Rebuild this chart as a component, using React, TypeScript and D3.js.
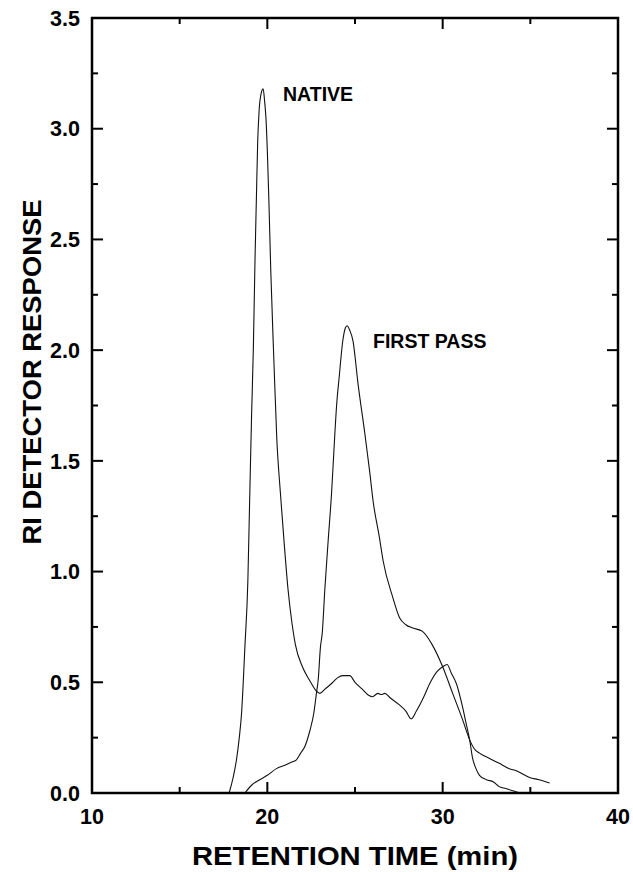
import React from "react";
import * as d3 from "d3";

const nativeTime = [17.82, 18.05, 18.24, 18.4, 18.53, 18.72, 18.89, 18.98, 19.1, 19.2, 19.3, 19.38, 19.45, 19.53, 19.65, 19.76, 19.85, 19.92, 20.0, 20.09, 20.2, 20.37, 20.54, 20.75, 20.94, 21.18, 21.4, 21.6, 22.0, 22.4, 22.8, 23.0, 23.3, 23.6, 24.0, 24.3, 24.7, 25.0, 25.4, 25.8, 26.0, 26.3, 26.5, 26.7, 27.0, 27.5, 27.9, 28.2, 28.5, 28.9, 29.3, 29.7, 30.0, 30.25, 30.5, 30.8, 31.1, 31.35, 31.54, 31.7, 31.9, 32.1, 32.5, 32.9, 33.2, 33.6, 34.0, 34.4];
const nativeResponse = [0, 0.07, 0.15, 0.25, 0.36, 0.66, 0.96, 1.28, 1.7, 2.0, 2.42, 2.7, 2.94, 3.08, 3.16, 3.18, 3.12, 3.05, 2.9, 2.67, 2.35, 1.96, 1.6, 1.35, 1.15, 0.92, 0.77, 0.67, 0.57, 0.51, 0.46, 0.45, 0.47, 0.49, 0.52, 0.53, 0.53, 0.5, 0.47, 0.44, 0.435, 0.45, 0.445, 0.45, 0.43, 0.4, 0.37, 0.335, 0.37, 0.43, 0.5, 0.55, 0.57, 0.58, 0.54, 0.49, 0.4, 0.31, 0.24, 0.16, 0.11, 0.08, 0.06, 0.05, 0.03, 0.02, 0.01, 0];

const firstPassTime = [18.72, 19.1, 19.57, 20.0, 20.52, 21.0, 21.4, 21.66, 21.9, 22.14, 22.42, 22.65, 22.8, 22.9, 23.03, 23.13, 23.28, 23.47, 23.66, 23.8, 23.95, 24.1, 24.3, 24.45, 24.55, 24.7, 24.89, 25.17, 25.55, 25.84, 26.03, 26.4, 26.6, 27.15, 27.55, 27.9, 28.3, 28.85, 29.4, 30.0, 30.57, 31.14, 31.54, 31.8, 32.1, 32.7, 33.2, 33.8, 34.2, 34.96, 35.5, 36.1];
const firstPassResponse = [0, 0.035, 0.06, 0.08, 0.11, 0.125, 0.14, 0.15, 0.18, 0.21, 0.28, 0.36, 0.45, 0.51, 0.66, 0.72, 0.92, 1.14, 1.35, 1.55, 1.75, 1.88, 2.04, 2.1, 2.11, 2.09, 2.04, 1.85, 1.63, 1.45, 1.32, 1.15, 1.05, 0.885, 0.79, 0.76, 0.745, 0.73, 0.67, 0.57, 0.45, 0.33, 0.24, 0.2, 0.18, 0.155, 0.135, 0.11, 0.1, 0.07, 0.06, 0.045];

const xMajorTicks = [10, 20, 30, 40];
const xMinorTicks = [15, 25, 35];
const yMajorTicks = [0, 0.5, 1.0, 1.5, 2.0, 2.5, 3.0, 3.5];
const yMinorTicks = [0.25, 0.75, 1.25, 1.75, 2.25, 2.75, 3.25];

const seriesLabels = ["NATIVE", "FIRST PASS"];
const xTitle = "RETENTION TIME (min)";
const yTitle = "RI DETECTOR RESPONSE";

const W = 633;
const H = 872;
const left = 92;
const right = 618;
const top = 18;
const bottom = 793;
const font = "'Liberation Sans', Arial, Helvetica, sans-serif";

export default function App() {
  const x = d3.scaleLinear().domain([10, 40]).range([left, right]);
  const y = d3.scaleLinear().domain([0, 3.5]).range([bottom, top]);
  const line = d3
    .line<[number, number]>()
    .x((d) => x(d[0]))
    .y((d) => y(d[1]))
    .curve(d3.curveMonotoneX);

  const nativePts: [number, number][] = nativeTime.map((t, i) => [t, nativeResponse[i]]);
  const firstPts: [number, number][] = firstPassTime.map((t, i) => [t, firstPassResponse[i]]);

  const majorLen = 11;
  const minorLen = 6;

  return (
    <svg
      width={W}
      height={H}
      style={{ position: "absolute", left: 0, top: 0, background: "#fff" }}
      fontFamily={font}
    >
      <rect x={0} y={0} width={W} height={H} fill="#fff" />
      <path d={line(nativePts) || ""} fill="none" stroke="#111" strokeWidth={1.1} />
      <path d={line(firstPts) || ""} fill="none" stroke="#111" strokeWidth={1.1} />

      <g stroke="#000" strokeWidth={2}>
        {xMajorTicks.map((t) => (
          <g key={"xM" + t}>
            <line x1={x(t)} x2={x(t)} y1={bottom} y2={bottom - majorLen} />
            <line x1={x(t)} x2={x(t)} y1={top} y2={top + majorLen} />
          </g>
        ))}
        {xMinorTicks.map((t) => (
          <g key={"xm" + t}>
            <line x1={x(t)} x2={x(t)} y1={bottom} y2={bottom - minorLen} />
            <line x1={x(t)} x2={x(t)} y1={top} y2={top + minorLen} />
          </g>
        ))}
        {yMajorTicks.map((t) => (
          <g key={"yM" + t}>
            <line x1={left} x2={left + majorLen} y1={y(t)} y2={y(t)} />
            <line x1={right} x2={right - majorLen} y1={y(t)} y2={y(t)} />
          </g>
        ))}
        {yMinorTicks.map((t) => (
          <g key={"ym" + t}>
            <line x1={left} x2={left + minorLen} y1={y(t)} y2={y(t)} />
            <line x1={right} x2={right - minorLen} y1={y(t)} y2={y(t)} />
          </g>
        ))}
      </g>

      <rect x={left} y={top} width={right - left} height={bottom - top} fill="none" stroke="#000" strokeWidth={2.5} />

      {xMajorTicks.map((t) => (
        <text key={"xl" + t} x={x(t)} y={824} textAnchor="middle" fontSize={21.5} fontWeight="bold" fill="#000">
          {t}
        </text>
      ))}
      {yMajorTicks.map((t) => (
        <text
          key={"yl" + t}
          x={80}
          y={y(t)}
          dy="0.36em"
          textAnchor="end"
          fontSize={21.5}
          fontWeight="bold"
          fill="#000"
        >
          {t.toFixed(1)}
        </text>
      ))}

      <text
        x={(left + right) / 2}
        y={865}
        textAnchor="middle"
        fontSize={25}
        fontWeight="bold"
        fill="#000"
        textLength={326}
        lengthAdjust="spacingAndGlyphs"
      >
        {xTitle}
      </text>
      <text
        transform={`translate(41, 372) rotate(-90)`}
        textAnchor="middle"
        fontSize={25}
        fontWeight="bold"
        fill="#000"
        textLength={345}
        lengthAdjust="spacingAndGlyphs"
      >
        {yTitle}
      </text>

      <text x={283} y={101} fontSize={19.5} fontWeight="bold" fill="#000">
        {seriesLabels[0]}
      </text>
      <text x={373} y={348} fontSize={19.5} fontWeight="bold" fill="#000">
        {seriesLabels[1]}
      </text>
    </svg>
  );
}
